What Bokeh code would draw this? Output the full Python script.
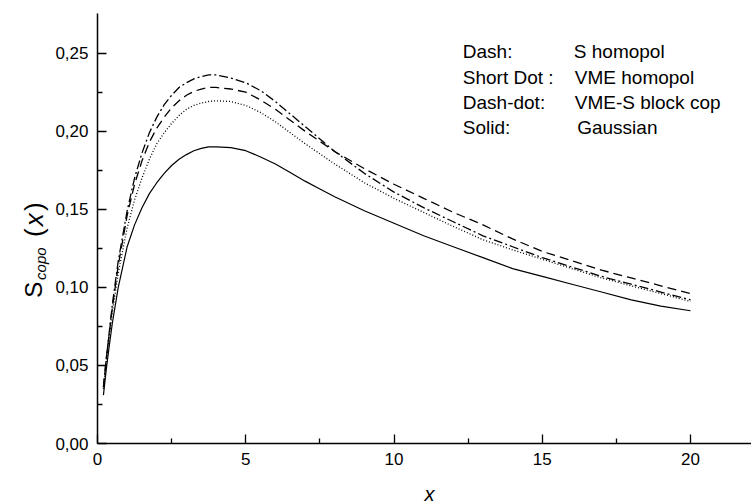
import math
from bokeh.plotting import figure
from bokeh.layouts import row, column
from bokeh.models import (LinearAxis, FixedTicker, CustomJSTickFormatter, Label,
                          Range1d, ColumnDataSource)
from bokeh.core.properties import value
from bokeh.embed import file_html
from bokeh.resources import INLINE

# ---------------- data ----------------
x_vals = [0.2, 0.3, 0.4, 0.5, 0.7, 1.0, 1.25, 1.5, 1.75, 2.0, 2.25, 2.5, 2.75, 3.0,
          3.25, 3.5, 3.75, 4.0, 4.5, 5.0, 5.5, 6.0, 6.5, 7.0, 7.5, 8.0, 9.0, 10.0,
          11.0, 12.0, 13.0, 14.0, 15.0, 16.0, 17.0, 18.0, 19.0, 20.0]

gaussian = [0.031, 0.048, 0.063, 0.077, 0.100, 0.126, 0.140, 0.151, 0.160, 0.167,
            0.173, 0.178, 0.182, 0.185, 0.1875, 0.189, 0.190, 0.190, 0.1895, 0.1875,
            0.1835, 0.179, 0.1735, 0.168, 0.163, 0.158, 0.149, 0.141, 0.133, 0.126,
            0.119, 0.112, 0.107, 0.102, 0.097, 0.092, 0.088, 0.085]
vme_homopol = [0.035, 0.053, 0.069, 0.084, 0.109, 0.138, 0.156, 0.170, 0.182, 0.192,
               0.199, 0.205, 0.210, 0.214, 0.2165, 0.218, 0.219, 0.2195, 0.219, 0.2165,
               0.212, 0.206, 0.199, 0.192, 0.1855, 0.179, 0.167, 0.157, 0.148, 0.139,
               0.1305, 0.124, 0.118, 0.112, 0.106, 0.101, 0.096, 0.091]
s_homopol = [0.036, 0.055, 0.071, 0.087, 0.114, 0.146, 0.166, 0.181, 0.193, 0.202,
             0.209, 0.215, 0.2195, 0.223, 0.2255, 0.227, 0.228, 0.228, 0.227, 0.225,
             0.220, 0.214, 0.207, 0.200, 0.1935, 0.187, 0.176, 0.166, 0.157, 0.148,
             0.140, 0.131, 0.123, 0.117, 0.111, 0.106, 0.101, 0.096]
block_cop = [0.036, 0.055, 0.072, 0.089, 0.117, 0.149, 0.170, 0.186, 0.199, 0.209,
             0.217, 0.223, 0.228, 0.231, 0.2335, 0.235, 0.236, 0.236, 0.234, 0.231,
             0.226, 0.219, 0.211, 0.203, 0.195, 0.187, 0.173, 0.161, 0.151, 0.142,
             0.133, 0.126, 0.119, 0.113, 0.107, 0.102, 0.097, 0.092]

x_major_ticks = [0, 5, 10, 15, 20]
x_minor_ticks = [2.5, 7.5, 12.5, 17.5]
y_major_ticks = [0.0, 0.05, 0.10, 0.15, 0.20, 0.25]
y_minor_ticks = [0.025, 0.075, 0.125, 0.175, 0.225]

legend_keys = ["Dash:", "Short Dot :", "Dash-dot:", "Solid:"]
legend_names = ["S homopol", "VME homopol", "VME-S block cop", "Gaussian"]

# ---------------- layout geometry ----------------
FONT = "Liberation Sans"
W, H = 751, 503
WL = 50                      # strip holding the rotated y label
HB = 22                      # strip holding the x label
HM = H - HB                  # height of the main row
FL, FT, FB = 97, 13, 443     # frame edges in page pixels

def blank(fig):
    fig.outline_line_color = None
    fig.grid.visible = False
    fig.background_fill_color = "white"
    fig.border_fill_color = "white"

# ---------------- y-label strip ----------------
lab = figure(width=WL, height=HM, output_backend="svg", toolbar_location=None,
             x_range=Range1d(0, WL), y_range=Range1d(HM, 0),
             x_axis_location=None, y_axis_location=None,
             min_border_left=0, min_border_right=0,
             min_border_top=0, min_border_bottom=0)
blank(lab)

ang = math.pi / 2
def ylab(text, bx, start_py, size, style="normal"):
    lab.text(x=[bx], y=[start_py], text=[text], angle=ang,
             text_font=value(FONT), text_font_size=size,
             text_font_style=style, text_color="black",
             text_align="left", text_baseline="alphabetic")

ylab("S", 33, 318, "24px")
ylab("copo", 40, 298, "15px", "italic")
ylab("(", 33, 250, "26px")
ylab("x", 33, 238, "26px", "italic")
ylab(")", 33, 221, "26px")

# ---------------- x-label strip ----------------
xl = figure(width=W, height=HB, output_backend="svg", toolbar_location=None,
            x_range=Range1d(0, W), y_range=Range1d(HB, 0),
            x_axis_location=None, y_axis_location=None,
            min_border_left=0, min_border_right=0,
            min_border_top=0, min_border_bottom=0)
blank(xl)
xl.text(x=[429], y=[493 - HM], text=["x"], text_font=value(FONT),
        text_font_size="20px", text_font_style="italic", text_color="black",
        text_align="center", text_baseline="alphabetic")

# ---------------- main plot ----------------
p = figure(width=W - WL, height=HM, output_backend="svg", toolbar_location=None,
           x_range=Range1d(0, (W - FL) / 29.65), y_range=Range1d(0, (FB - FT) / 1561.6),
           x_axis_location=None, y_axis_location=None,
           min_border_left=FL - WL, min_border_right=0, min_border_top=FT,
           min_border_bottom=HM - FB)
blank(p)

fmt_y = CustomJSTickFormatter(code="return tick.toFixed(2).replace('.', ',');")
fmt_x = CustomJSTickFormatter(code="return tick.toFixed(0);")

def style_axis(ax):
    ax.axis_line_color = "black"
    ax.axis_line_width = 1.5
    ax.major_tick_line_color = "black"
    ax.minor_tick_line_color = "black"
    ax.major_tick_line_width = 1.3
    ax.minor_tick_line_width = 1.3
    ax.major_tick_in = 9
    ax.major_tick_out = 0
    ax.minor_tick_in = 5
    ax.minor_tick_out = 0
    ax.major_label_text_font = FONT
    ax.major_label_text_font_size = "17px"
    ax.major_label_text_color = "black"
    ax.major_label_standoff = 9

yax = LinearAxis(ticker=FixedTicker(ticks=y_major_ticks, minor_ticks=y_minor_ticks),
                 formatter=fmt_y)
style_axis(yax)
p.add_layout(yax, "left")

xax = LinearAxis(ticker=FixedTicker(ticks=x_major_ticks, minor_ticks=x_minor_ticks),
                 formatter=fmt_x)
style_axis(xax)
p.add_layout(xax, "below")

src = ColumnDataSource(dict(x=x_vals, s=s_homopol, v=vme_homopol, b=block_cop,
                            g=gaussian))
p.line("x", "s", source=src, line_color="black", line_width=1.3, line_dash="9 5")
p.line("x", "v", source=src, line_color="black", line_width=1.3, line_dash="1 2")
p.line("x", "b", source=src, line_color="black", line_width=1.3, line_dash="9 3 2 3")
p.line("x", "g", source=src, line_color="black", line_width=1.2)

def sx(px):
    return px - FL
def sy(py):
    return FB - py

# legend text block (frame-relative screen units)
rows_base = [50.7, 76.7, 101.7, 126.7]
name_x = [573.3, 574.3, 574.3, 576.7]
for k, n, ry, nx in zip(legend_keys, legend_names, rows_base, name_x):
    p.add_layout(Label(x=sx(462.3), y=sy(ry), x_units="screen", y_units="screen",
                       text=k, text_font=FONT, text_font_size="19px",
                       text_color="black", text_baseline="alphabetic", text_align="left"))
    p.add_layout(Label(x=sx(nx), y=sy(ry), x_units="screen", y_units="screen",
                       text=n, text_font=FONT, text_font_size="19px",
                       text_color="black", text_baseline="alphabetic", text_align="left"))

layout = column(row(lab, p, spacing=0), xl, spacing=0)
open("out.html", "w").write(file_html(layout, INLINE))
